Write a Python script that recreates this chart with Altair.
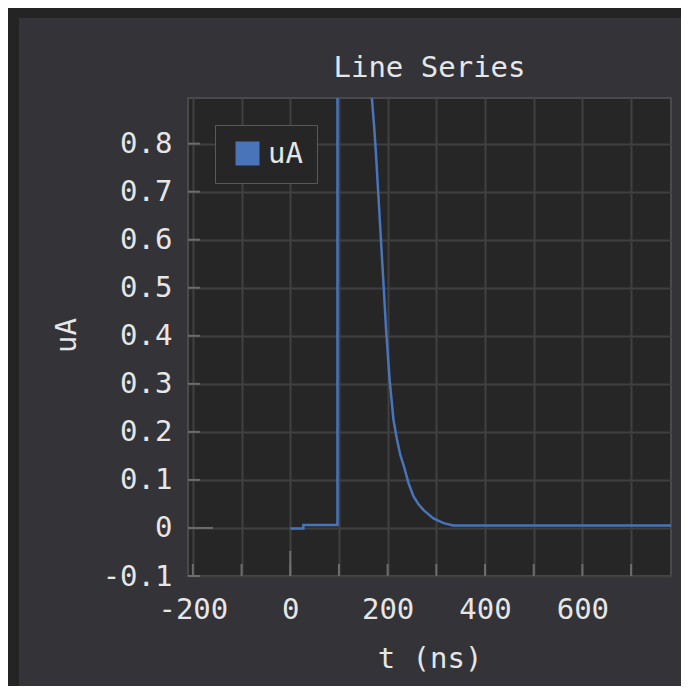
import altair as alt
import pandas as pd

# ---- data ----
T_NS = [0, 27, 27, 97, 97, 130, 150, 168, 172, 176, 180, 184, 188, 192, 197, 204,
        212, 219, 226, 233, 243, 253, 263, 274, 294, 315, 335, 782]
UA = [-0.001, -0.001, 0.006, 0.006, 1.5, 1.25, 1.05, 0.89, 0.84, 0.78, 0.71, 0.64,
      0.57, 0.50, 0.41, 0.31, 0.225, 0.185, 0.152, 0.13, 0.093, 0.066, 0.05, 0.037,
      0.02, 0.01, 0.005, 0.005]
SERIES = ["uA"]
TITLE = ["Line Series"]
X_GRID = [-200, -100, 0, 100, 200, 300, 400, 500, 600, 700]
Y_GRID = [-0.1, 0, 0.1, 0.2, 0.3, 0.4, 0.5, 0.6, 0.7, 0.8]
ZERO = [0]

FONT = "DejaVu Sans Mono"
FS = 29
TXT = "#e6e6e6"
BLUE = "#4a74b9"
W, H = 483, 478

df = pd.DataFrame({"t": T_NS, "uA": UA, "i": list(range(len(T_NS))), "series": SERIES[0]})

xs = alt.Scale(domain=[-210, 782], nice=False, zero=False)
ys = alt.Scale(domain=[-0.1, 0.895], nice=False, zero=False)

x_label_expr = ("datum.value % 200 == 0 ? (datum.value < 0 ? '-' + format(-datum.value, 'd') "
                ": format(datum.value, 'd')) : ''")
y_label_expr = ("abs(datum.value) < 0.001 ? '0' : (datum.value < 0 ? '-' + format(-datum.value, '.1f') "
                ": format(datum.value, '.1f'))")

x_axis = alt.Axis(
    values=X_GRID, labelExpr=x_label_expr, grid=True, ticks=False, domain=False,
    labelFlush=False, labelOverlap=False, labelPadding=33, labelBaseline="middle",
    labelFont=FONT, labelFontSize=FS, labelColor=TXT,
    title="t (ns)", titleFont=FONT, titleFontSize=FS, titleFontWeight="normal",
    titleColor=TXT, titleY=82, titleBaseline="middle",
    gridColor="#404040", gridWidth=2)
y_axis = alt.Axis(
    values=Y_GRID, labelExpr=y_label_expr, grid=True, ticks=False, domain=False,
    labelFlush=False, labelOverlap=False, labelPadding=16, labelAlign="right",
    labelBaseline="middle", labelFont=FONT, labelFontSize=FS, labelColor=TXT,
    title="uA", titleFont=FONT, titleFontSize=FS, titleFontWeight="normal",
    titleColor=TXT, titleX=-122, titleY=237, titleAngle=270, titleAlign="center",
    titleBaseline="middle", gridColor="#404040", gridWidth=2)

line = alt.Chart(df).mark_line(strokeWidth=2.5, clip=True).encode(
    x=alt.X("t:Q", scale=xs, axis=x_axis),
    y=alt.Y("uA:Q", scale=ys, axis=y_axis),
    color=alt.Color("series:N", scale=alt.Scale(domain=SERIES, range=[BLUE]),
                    legend=alt.Legend(title=None, orient="none", legendX=27, legendY=27,
                                      padding=14, fillColor="#262626", strokeColor="#5a5a5a",
                                      symbolType="square", symbolSize=576, symbolStrokeWidth=0,
                                      symbolFillColor=BLUE, symbolOpacity=1, symbolOffset=4,
                                      labelOffset=6, labelFont=FONT, labelFontSize=FS,
                                      labelColor=TXT)),
    order=alt.Order("i:Q"),
)

xt_df = pd.DataFrame({"t": X_GRID})
yt_df = pd.DataFrame({"uA": Y_GRID})
zx_df = pd.DataFrame({"t": ZERO})
zy_df = pd.DataFrame({"uA": ZERO})
TICK = "#6c6c6c"

x_ticks = alt.Chart(xt_df).mark_rule(color=TICK, strokeWidth=2).encode(
    x=alt.X("t:Q", scale=xs, axis=x_axis), y=alt.value(H), y2=alt.value(H - 12))
y_ticks = alt.Chart(yt_df).mark_rule(color=TICK, strokeWidth=2).encode(
    y=alt.Y("uA:Q", scale=ys, axis=y_axis), x=alt.value(0), x2=alt.value(12))
x_zero = alt.Chart(zx_df).mark_rule(color=TICK, strokeWidth=2).encode(
    x=alt.X("t:Q", scale=xs, axis=x_axis), y=alt.value(H), y2=alt.value(H - 25))
y_zero = alt.Chart(zy_df).mark_rule(color=TICK, strokeWidth=2).encode(
    y=alt.Y("uA:Q", scale=ys, axis=y_axis), x=alt.value(0), x2=alt.value(25))

one = alt.Data(values=[{"a": 1}])
left_strip = alt.Chart(one).mark_rect(color="#242424").encode(
    x=alt.value(-180), x2=alt.value(-169), y=alt.value(-90), y2=alt.value(588))
top_strip = alt.Chart(one).mark_rect(color="#242424").encode(
    x=alt.value(-169), x2=alt.value(493), y=alt.value(-90), y2=alt.value(-80))

title_df = pd.DataFrame({"title": TITLE})
title = alt.Chart(title_df).mark_text(font=FONT, fontSize=FS, color=TXT, align="center",
                                      baseline="middle").encode(
    text="title:N", x=alt.value(W / 2), y=alt.value(-30))

chart = alt.layer(line, x_ticks, y_ticks, x_zero, y_zero, left_strip, top_strip, title).properties(
    width=W, height=H,
    padding={"left": 180, "top": 90, "right": 10, "bottom": 110},
    autosize=alt.AutoSizeParams(type="none"),
    background="#333338",
).configure_view(fill="#262626", stroke="#4a4a4a", strokeWidth=2)

chart.save("out.html", embed_options={"renderer": "svg", "actions": False})
